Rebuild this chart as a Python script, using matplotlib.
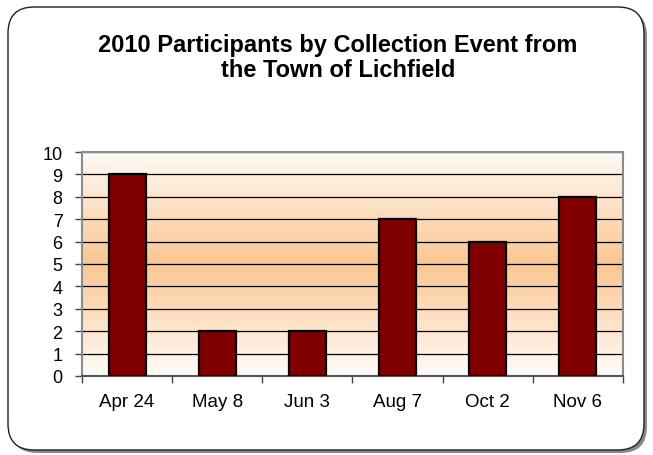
import matplotlib
matplotlib.use("Agg")
import matplotlib.pyplot as plt
import numpy as np
from matplotlib.patches import FancyBboxPatch
from matplotlib.colors import LinearSegmentedColormap

categories = ["Apr 24", "May 8", "Jun 3", "Aug 7", "Oct 2", "Nov 6"]
values = [9, 2, 2, 7, 6, 8]
yticks = list(range(0, 11))
title = "2010 Participants by Collection Event from\nthe Town of Lichfield"

plt.rcParams['font.family'] = ['Liberation Sans', 'DejaVu Sans']

W, H = 653, 456
fig = plt.figure(figsize=(W / 100, H / 100), dpi=100)
fig.patch.set_facecolor("white")

def fx(px):
    return px / W

def fy(py):
    return 1 - py / H

# shadow + frame
shadow = FancyBboxPatch((fx(11), fy(454)), fx(636), fy(8) - fy(451),
                        boxstyle="round,pad=0,rounding_size=0.04",
                        transform=fig.transFigure, facecolor="#8a8a8a", edgecolor="none",
                        zorder=0, mutation_aspect=W / H)
frame = FancyBboxPatch((fx(8), fy(451)), fx(636), fy(8) - fy(451),
                       boxstyle="round,pad=0,rounding_size=0.04",
                       transform=fig.transFigure, facecolor="white", edgecolor="#202020",
                       linewidth=1.0, zorder=1, mutation_aspect=W / H)
fig.patches.extend([shadow, frame])

ax = fig.add_axes([fx(82), fy(377), fx(623) - fx(82), fy(153) - fy(377)])
ax.set_zorder(2)

# gradient background
cmap = LinearSegmentedColormap.from_list("bg", [(0, "#fffaf6"), (0.5, "#fbc690"), (1, "#fffcfa")])
grad = np.linspace(0, 1, 256).reshape(-1, 1)
ax.imshow(grad, cmap=cmap, aspect="auto", extent=[0, 1, 0, 1],
          transform=ax.transAxes, zorder=0, interpolation="bicubic")

x = np.arange(len(categories))
ax.bar(x, values, width=0.41, color="#800000", edgecolor="black", linewidth=1.6, zorder=3)

ax.set_xlim(-0.5, len(categories) - 0.5)
ax.set_ylim(0, 10)
ax.set_yticks(yticks)
ax.set_yticklabels([str(t) for t in yticks], fontsize=13)
ax.set_xticks(x)
ax.set_xticklabels(categories, fontsize=13.5)
ax.set_xticks(np.arange(-0.5, len(categories), 1), minor=True)
ax.tick_params(axis="x", which="major", length=0, pad=12)
ax.tick_params(axis="x", which="minor", length=5, color="#444444", width=1)
ax.tick_params(axis="y", length=5, color="#444444", width=1, pad=9)

ax.yaxis.grid(True, color="black", linewidth=0.9, zorder=1)
ax.set_axisbelow(True)
for side in ["top", "right", "left", "bottom"]:
    ax.spines[side].set_color("#8c8c8c")
    ax.spines[side].set_linewidth(1.5)
ax.spines["bottom"].set_color("#555555")

fig.text(fx(338), fy(58), title, ha="center", va="center", fontsize=17,
         fontweight="bold", linespacing=1.13)

fig.savefig("out.png", dpi=100)
